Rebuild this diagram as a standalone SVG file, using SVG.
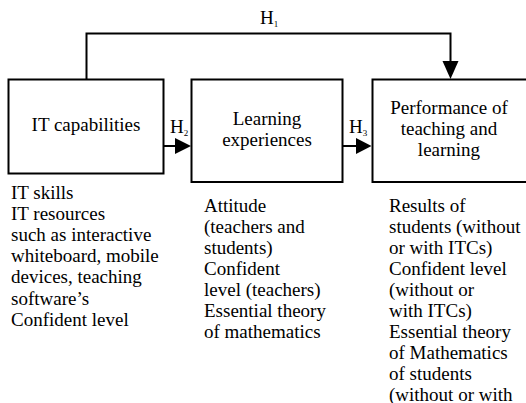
<svg xmlns="http://www.w3.org/2000/svg" width="526" height="403" viewBox="0 0 526 403">
<defs>
<style>
.box{fill:#fff;stroke:#000;stroke-width:2}
.ln{fill:none;stroke:#000;stroke-width:2}
</style>
</defs>
<rect width="526" height="403" fill="#fff"/>
<g id="connectors">
<path class="ln" d="M86.5 79 V33.5 H450.5 V62"/>
<polygon points="442.5,61 458.5,61 450.5,79"/>
<text x="260" y="24" font-family="Liberation Serif" font-size="19">H<tspan font-size="9" dy="3">1</tspan></text>
<path class="ln" d="M163.5 146 H176"/>
<polygon points="175,138 175,154 191,146"/>
<text x="170" y="133" font-family="Liberation Serif" font-size="19">H<tspan font-size="9" dy="3">2</tspan></text>
<path class="ln" d="M342.5 146 H357"/>
<polygon points="356,138 356,154 371.5,146"/>
<text x="349" y="133" font-family="Liberation Serif" font-size="19">H<tspan font-size="9" dy="3">3</tspan></text>
</g>
<g id="it-capabilities">
<rect class="box" x="8.5" y="79.5" width="155" height="94"/>
<text text-anchor="middle" x="86" y="131" font-family="Liberation Serif" font-size="19">IT capabilities</text>
</g>
<g id="learning-experiences">
<rect class="box" x="191.5" y="79.5" width="151" height="102.5"/>
<text text-anchor="middle" x="267" y="125" font-family="Liberation Serif" font-size="19">Learning</text>
<text text-anchor="middle" x="267" y="145.5" font-family="Liberation Serif" font-size="19">experiences</text>
</g>
<g id="performance">
<rect class="box" x="372.5" y="79.5" width="160" height="102.5"/>
<text text-anchor="middle" x="449" y="114" font-family="Liberation Serif" font-size="19">Performance of</text>
<text text-anchor="middle" x="449" y="135" font-family="Liberation Serif" font-size="19">teaching and</text>
<text text-anchor="middle" x="449" y="156" font-family="Liberation Serif" font-size="19">learning</text>
</g>
<g id="it-details">
<text x="11" y="199" font-family="Liberation Serif" font-size="19">IT skills</text>
<text x="11" y="220" font-family="Liberation Serif" font-size="19">IT resources</text>
<text x="11" y="241" font-family="Liberation Serif" font-size="19">such as interactive</text>
<text x="11" y="262" font-family="Liberation Serif" font-size="19">whiteboard, mobile</text>
<text x="11" y="283" font-family="Liberation Serif" font-size="19">devices, teaching</text>
<text x="11" y="304.5" font-family="Liberation Serif" font-size="19">software’s</text>
<text x="11" y="325.5" font-family="Liberation Serif" font-size="19">Confident level</text>
</g>
<g id="learning-details">
<text x="204" y="212" font-family="Liberation Serif" font-size="19">Attitude</text>
<text x="204" y="233" font-family="Liberation Serif" font-size="19">(teachers and</text>
<text x="204" y="254" font-family="Liberation Serif" font-size="19">students)</text>
<text x="204" y="275" font-family="Liberation Serif" font-size="19">Confident</text>
<text x="204" y="296" font-family="Liberation Serif" font-size="19">level (teachers)</text>
<text x="204" y="316.5" font-family="Liberation Serif" font-size="19">Essential theory</text>
<text x="204" y="337.5" font-family="Liberation Serif" font-size="19">of mathematics</text>
</g>
<g id="performance-details">
<text x="389" y="212" font-family="Liberation Serif" font-size="19">Results of</text>
<text x="389" y="233" font-family="Liberation Serif" font-size="19">students (without</text>
<text x="389" y="254" font-family="Liberation Serif" font-size="19">or with ITCs)</text>
<text x="389" y="275" font-family="Liberation Serif" font-size="19">Confident level</text>
<text x="389" y="296" font-family="Liberation Serif" font-size="19">(without or</text>
<text x="389" y="316.5" font-family="Liberation Serif" font-size="19">with ITCs)</text>
<text x="389" y="337.5" font-family="Liberation Serif" font-size="19">Essential theory</text>
<text x="389" y="358.5" font-family="Liberation Serif" font-size="19">of Mathematics</text>
<text x="389" y="379.5" font-family="Liberation Serif" font-size="19">of students</text>
<text x="389" y="400.5" font-family="Liberation Serif" font-size="19">(without or with</text>
</g>
</svg>
